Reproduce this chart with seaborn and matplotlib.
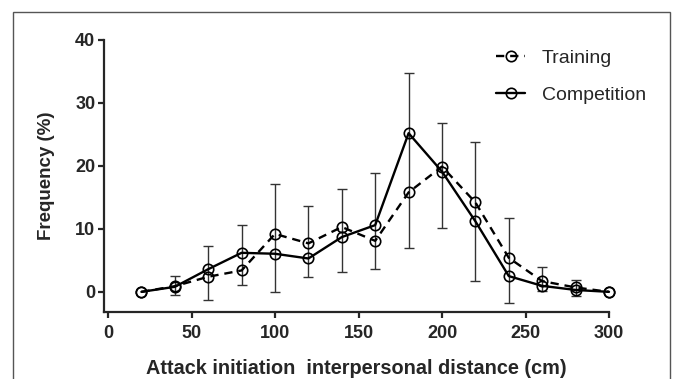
import matplotlib
matplotlib.use("Agg")
import matplotlib.pyplot as plt
import seaborn as sns
import pandas as pd
from matplotlib.patches import Rectangle

distance = [20, 40, 60, 80, 100, 120, 140, 160, 180, 200, 220, 240, 260, 280, 300]
training = [0.0, 0.9, 2.4, 3.4, 9.2, 7.7, 10.3, 8.1, 15.8, 19.9, 14.2, 5.4, 1.7, 0.7, 0.0]
competition = [0.0, 0.8, 3.6, 6.2, 6.05, 5.3, 8.7, 10.6, 25.2, 19.1, 11.2, 2.5, 0.95, 0.3, 0.0]
err_x = [40, 60, 80, 100, 120, 140, 160, 180, 200, 220, 240, 260, 280]
err_low = [-0.5, -1.3, 1.05, 0.05, 2.3, 3.2, 3.6, 6.9, 10.1, 1.75, -1.7, 0.2, -0.6]
err_high = [2.5, 7.3, 10.6, 17.1, 13.65, 16.4, 18.9, 34.8, 26.8, 23.8, 11.7, 4.0, 1.9]
x_ticks = [0, 50, 100, 150, 200, 250, 300]
y_ticks = [0, 10, 20, 30, 40]

sns.set_theme(style="ticks")
plt.rcParams['font.family'] = ['Liberation Sans', 'DejaVu Sans']

fig = plt.figure(figsize=(6.73, 3.79), dpi=100)
ax = fig.add_axes([104/673, 1-312/379, (609-104)/673, (312-40)/379])

# figure frame
fig.patches.append(Rectangle((13/673, -0.05), (670-13)/673, 1.05 - 12/379, transform=fig.transFigure,
                             fill=False, edgecolor='#555555', linewidth=1.0))

df = pd.DataFrame({"distance": distance, "training": training, "competition": competition})

# error bars
mid = [(l + h) / 2 for l, h in zip(err_low, err_high)]
lower = [m - l for m, l in zip(mid, err_low)]
upper = [h - m for h, m in zip(err_high, mid)]
ax.errorbar(err_x, mid, yerr=[lower, upper], fmt='none', ecolor='#333333',
            elinewidth=1.0, capsize=3.8, capthick=1.0, zorder=1, clip_on=False)

common = dict(marker='o', markersize=7.5, markerfacecolor='none', markeredgecolor='black',
              markeredgewidth=1.2, color='black', clip_on=False)
sns.lineplot(data=df, x="distance", y="training", ax=ax, linestyle=(0, (3.5, 2.5)),
             linewidth=1.7, label="Training", zorder=3, **common)
sns.lineplot(data=df, x="distance", y="competition", ax=ax, linestyle='-',
             linewidth=1.7, label="Competition", zorder=4, **common)

ax.set_xlim(-2.4, 300)
ax.set_ylim(-3.2, 40)
ax.set_xticks(x_ticks)
ax.set_yticks(y_ticks)
ax.tick_params(axis='both', direction='out', length=4.3, width=1.6, labelsize=13)
ax.tick_params(axis='y', pad=2)
ax.tick_params(axis='x', pad=5)
for lab in ax.get_xticklabels() + ax.get_yticklabels():
    lab.set_fontweight('bold')
for s in ['left', 'bottom']:
    ax.spines[s].set_linewidth(1.6)
for s in ['top', 'right']:
    ax.spines[s].set_visible(False)

ax.set_xlabel("Attack initiation  interpersonal distance (cm)", fontsize=14.3, fontweight='bold')
ax.set_ylabel("Frequency (%)", fontsize=13.5, fontweight='bold')
ax.xaxis.set_label_coords((356-104)/505, (312-359)/272)
ax.yaxis.set_label_coords((55-104)/505, 0.5)

leg = ax.legend(loc='upper left', bbox_to_anchor=(496/673, 1-49/379), bbox_transform=fig.transFigure,
                frameon=False, fontsize=14, borderaxespad=0, borderpad=0,
                handlelength=1.5, labelspacing=1.0, handletextpad=0.85)

fig.savefig("out.png", dpi=100)
